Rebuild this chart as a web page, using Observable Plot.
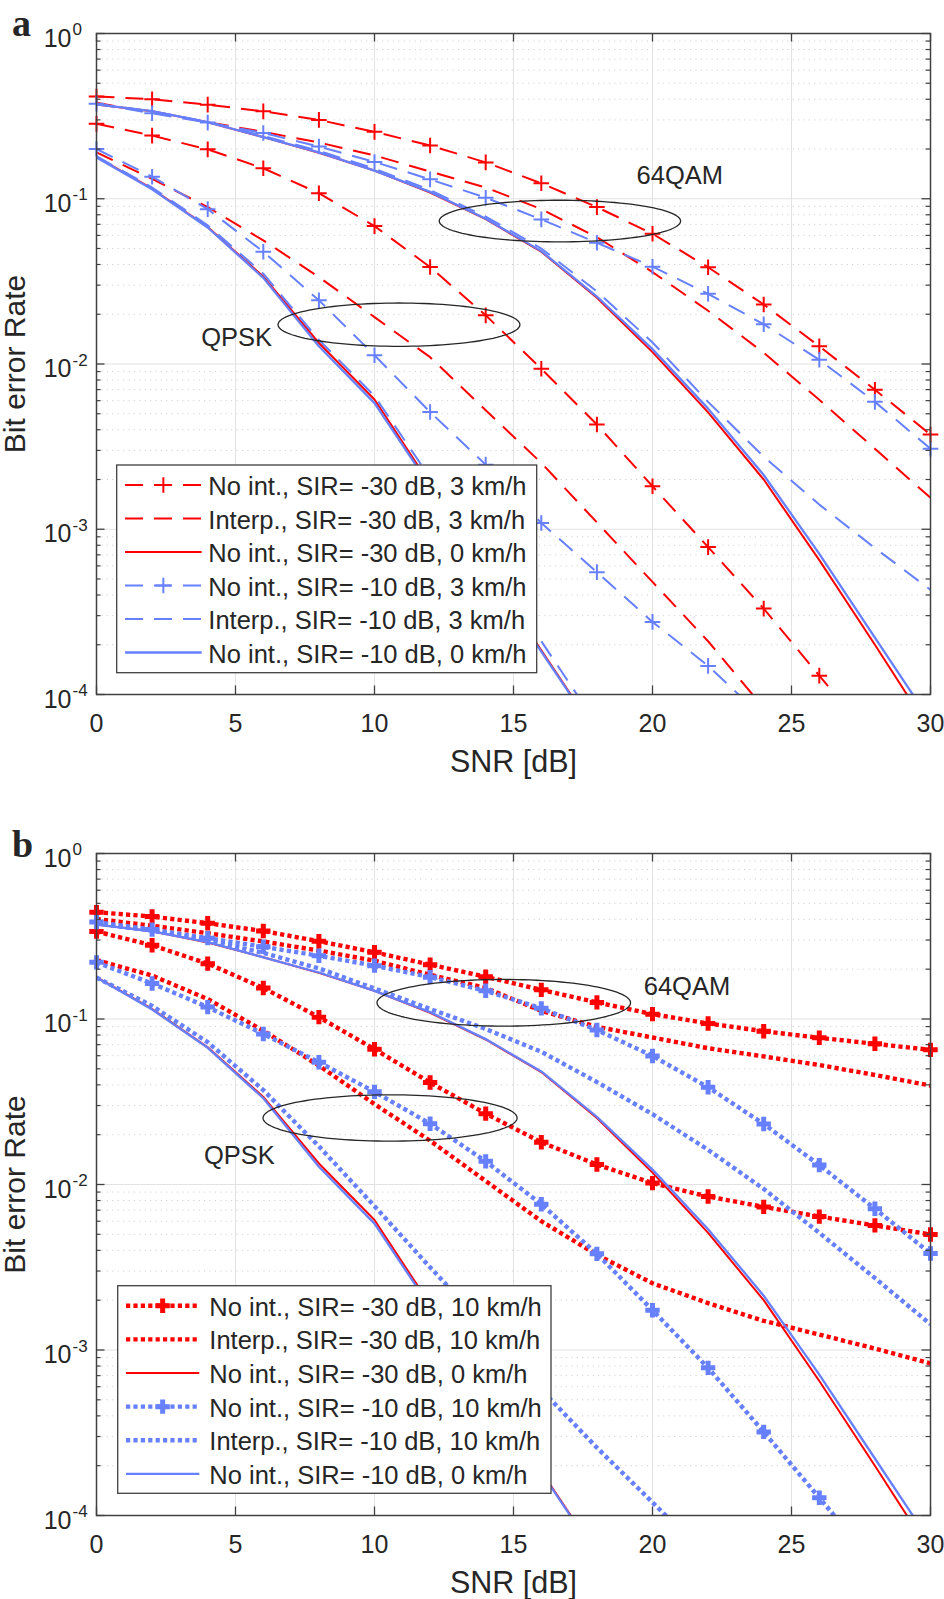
<!DOCTYPE html>
<html><head><meta charset="utf-8">
<script src="https://cdn.jsdelivr.net/npm/d3@7"></script>
<script src="https://cdn.jsdelivr.net/npm/@observablehq/plot@0.6"></script>
<style>
body{margin:0;background:#fff;}
#chart{width:944px;}
#chart svg{display:block;}
</style></head><body><div id="chart"></div>
<script>
// ---------- data ----------
const snr = [0,2,4,6,8,10,12,14,16,18,20,22,24,26,28,30];
const yTicksMajor = [1e-4,1e-3,1e-2,1e-1,1];
const xTicks = [0,5,10,15,20,25,30];

// shared: perfect-channel (0 km/h) curves
const solidM30_QPSK = [0.179,0.115,0.0674,0.0338,0.0134,0.0061,0.00188,0.00059,0.000185,0.000058,null,null,null,null,null,null];
const solidM10_QPSK = [0.178,0.114,0.0670,0.0332,0.0128,0.0058,0.00182,0.000575,0.000182,0.0000575,null,null,null,null,null,null];
const solidM30_64 = [0.372,0.339,0.290,0.236,0.190,0.148,0.109,0.0752,0.0478,0.0252,0.0118,0.0051,0.0020,0.00065,0.000200,0.000060];
const solidM10_64 = [0.372,0.339,0.291,0.236,0.191,0.148,0.110,0.0756,0.0482,0.0256,0.0123,0.00537,0.00213,0.00071,0.000221,0.000069];

// panel a: 3 km/h
const aNoIntM30_QPSK = [0.284,0.241,0.199,0.153,0.108,0.0683,0.0386,0.0197,0.00936,0.0043,0.00182,0.00078,0.000331,0.000130,0.000052,null];
const aNoIntM30_64 = [0.416,0.400,0.371,0.338,0.300,0.254,0.210,0.166,0.124,0.089,0.0614,0.0385,0.0229,0.0128,0.00699,0.00374];
const aInterpM30_QPSK = [0.191,0.132,0.089,0.056,0.0336,0.0192,0.0110,0.00525,0.00252,0.00110,0.00048,0.00021,0.000083,null,null,null];
const aInterpM30_64 = [0.381,0.332,0.291,0.254,0.219,0.183,0.146,0.117,0.0865,0.0585,0.0360,0.0210,0.0117,0.00607,0.00307,0.00155];
const aNoIntM10_QPSK = [0.200,0.136,0.0865,0.0478,0.0243,0.0113,0.00512,0.00246,0.00109,0.00055,0.000275,0.000149,0.000072,null,null,null];
const aNoIntM10_64 = [0.376,0.329,0.289,0.250,0.207,0.167,0.131,0.1015,0.075,0.0542,0.0388,0.0266,0.0174,0.0106,0.0059,0.00307];
const aInterpM10_QPSK = [0.181,0.117,0.069,0.0352,0.0140,0.0064,0.00205,0.00066,0.00021,0.000066,null,null,null,null,null,null];
const aInterpM10_64 = [0.374,0.338,0.292,0.240,0.195,0.152,0.113,0.078,0.050,0.0275,0.0135,0.0059,0.00275,0.00141,0.00077,0.00043];

// panel b: 10 km/h
const bNoIntM30_QPSK = [0.338,0.279,0.216,0.154,0.1026,0.0657,0.0413,0.0268,0.0180,0.0132,0.0102,0.00846,0.00732,0.00640,0.00566,0.00499];
const bNoIntM30_64 = [0.442,0.416,0.379,0.340,0.295,0.253,0.213,0.180,0.150,0.126,0.107,0.094,0.0844,0.0770,0.0708,0.0651];
const bInterpM30_QPSK = [0.227,0.183,0.132,0.085,0.0523,0.0306,0.0184,0.0105,0.0060,0.00376,0.00253,0.00192,0.00150,0.00124,0.00102,0.00083];
const bInterpM30_64 = [0.402,0.366,0.330,0.294,0.259,0.225,0.185,0.154,0.112,0.0897,0.0773,0.0666,0.0594,0.0527,0.0459,0.0396];
const bNoIntM10_QPSK = [0.220,0.164,0.118,0.0812,0.0548,0.0363,0.0233,0.0138,0.0076,0.00381,0.00174,0.00078,0.00032,0.000128,0.000051,null];
const bNoIntM10_64 = [0.385,0.347,0.308,0.273,0.241,0.210,0.179,0.148,0.116,0.0858,0.0598,0.0387,0.0232,0.0131,0.00714,0.00383];
const bInterpM10_QPSK = [0.178,0.120,0.0724,0.0372,0.0170,0.0074,0.00316,0.00138,0.000575,0.000257,0.000120,0.000056,null,null,null,null];
const bInterpM10_64 = [0.378,0.342,0.299,0.251,0.202,0.153,0.115,0.087,0.0634,0.0416,0.0266,0.0162,0.0094,0.0051,0.00272,0.00143];

const labelsA = ["No int., SIR= -30 dB, 3 km/h","Interp., SIR= -30 dB, 3 km/h","No int., SIR= -30 dB, 0 km/h","No int., SIR= -10 dB, 3 km/h","Interp., SIR= -10 dB, 3 km/h","No int., SIR= -10 dB, 0 km/h"];
const labelsB = ["No int., SIR= -30 dB, 10 km/h","Interp., SIR= -30 dB, 10 km/h","No int., SIR= -30 dB, 0 km/h","No int., SIR= -10 dB, 10 km/h","Interp., SIR= -10 dB, 10 km/h","No int., SIR= -10 dB, 0 km/h"];

// annotation ellipses (centre SNR, centre log10 BER, half-width dB, half-height decades)
const ellipsesA = [{cx:16.67,cy:-1.135,rx:4.34,ry:0.126},{cx:10.88,cy:-1.762,rx:4.35,ry:0.131}];
const ellipsesB = [{cx:14.65,cy:-0.902,rx:4.56,ry:0.141},{cx:10.56,cy:-1.598,rx:4.57,ry:0.140}];
const notesA = [{t:"64QAM",x:20.98,y:0.1384},{t:"QPSK",x:5.04,y:0.0144}];
const notesB = [{t:"64QAM",x:21.24,y:0.1556},{t:"QPSK",x:5.14,y:0.0150}];

// ---------- styling ----------
const RED = "#ff0000", BLUE = "#6680ff", INK = "#262626", AXIS = "#404040";
const FONT = "'Liberation Sans', Arial, Helvetica, sans-serif";
const W = 944, ML = 96, MR = 14;
const minorTicks = [];
for (let e = -4; e < 0; e++) for (let m = 2; m <= 9; m++) minorTicks.push(m * Math.pow(10, e));

const plusSym = {draw(ctx, size){const r = Math.sqrt(size/Math.PI); ctx.moveTo(-r,0); ctx.lineTo(r,0); ctx.moveTo(0,-r); ctx.lineTo(0,r);}};
const markerR = {a: 7.8, b: 7.2}, markerW = {a: 2, b: 5};

const rows = vals => snr.map((x,i)=>({x, y: vals[i]})).filter(d => d.y != null);

function styleOf(kind, color, panel) {
  if (kind === "solid") return {strokeWidth: color === BLUE ? 2.3 : 2, dash: null};
  if (panel === "a") return {strokeWidth: 2, dash: "18,11"};
  return {strokeWidth: 4.4, dash: "4.2,3.2"};
}

function makePanel(cfg) {
  const H = cfg.height - cfg.marginTop - cfg.marginBottom;
  const PW = W - ML - MR;
  const marks = [];
  // grid
  marks.push(Plot.ruleY(minorTicks, {y: d=>d, stroke: "#d2d2d2", strokeWidth: 1, strokeDasharray: "1.2,4.2"}));
  marks.push(Plot.ruleY(yTicksMajor.slice(1,4), {y: d=>d, stroke: "#e2e2e2", strokeWidth: 1}));
  marks.push(Plot.ruleX(xTicks.slice(1,6), {x: d=>d, stroke: "#e2e2e2", strokeWidth: 1}));
  // lines
  cfg.series.forEach(s => {
    const st = styleOf(s.kind, s.color, cfg.letter);
    s.data.forEach(vals => {
      marks.push(Plot.line(rows(vals), {x: "x", y: "y", stroke: s.color, strokeWidth: st.strokeWidth,
        strokeDasharray: st.dash, clip: true, strokeLinejoin: "round", strokeLinecap: "butt"}));
      if (s.marker) {
        marks.push(Plot.dot(rows(vals).filter(d => d.y >= 1e-4), {x: "x", y: "y", symbol: plusSym,
          r: markerR[cfg.letter], stroke: s.color, fill: "none",
          strokeWidth: markerW[cfg.letter], strokeLinecap: "butt"}));
      }
    });
  });
  // ellipses
  cfg.ellipses.forEach(e => {
    const pts = d3.range(0, 361, 3).map(a => ({x: e.cx + e.rx*Math.cos(a*Math.PI/180), y: Math.pow(10, e.cy + e.ry*Math.sin(a*Math.PI/180))}));
    marks.push(Plot.line(pts, {x: "x", y: "y", stroke: INK, strokeWidth: 1.3}));
  });
  marks.push(Plot.text(cfg.notes, {x: "x", y: "y", text: "t", fontSize: 25.5, fill: INK, fontFamily: FONT}));
  // frame & inward ticks
  marks.push(Plot.frame({stroke: AXIS, strokeWidth: 1.5}));
  marks.push(Plot.tickY(yTicksMajor, {y: d=>d, insetRight: PW - 8.5, stroke: AXIS, strokeWidth: 1.3}));
  marks.push(Plot.tickY(yTicksMajor, {y: d=>d, insetLeft: PW - 8.5, stroke: AXIS, strokeWidth: 1.3}));
  marks.push(Plot.tickY(minorTicks, {y: d=>d, insetRight: PW - 4.5, stroke: AXIS, strokeWidth: 1.2}));
  marks.push(Plot.tickY(minorTicks, {y: d=>d, insetLeft: PW - 4.5, stroke: AXIS, strokeWidth: 1.2}));
  marks.push(Plot.tickX(xTicks, {x: d=>d, insetBottom: H - 8.5, stroke: AXIS, strokeWidth: 1.3}));
  marks.push(Plot.tickX(xTicks, {x: d=>d, insetTop: H - 8.5, stroke: AXIS, strokeWidth: 1.3}));
  // tick labels
  marks.push(Plot.text(yTicksMajor, {y: d=>d, text: () => "10", frameAnchor: "left", dx: -25, textAnchor: "end", lineAnchor: "bottom", dy: 13, fontSize: 25, fill: INK, fontFamily: FONT}));
  marks.push(Plot.text(yTicksMajor, {y: d=>d, text: d => String(Math.round(Math.log10(d))), frameAnchor: "left", dx: -24, textAnchor: "start", lineAnchor: "bottom", dy: 1.5, fontSize: 17, fill: INK, fontFamily: FONT}));
  marks.push(Plot.text(xTicks, {x: d=>d, text: d => String(d), frameAnchor: "bottom", dy: 37, lineAnchor: "bottom", fontSize: 25, fill: INK, fontFamily: FONT}));
  // axis titles
  marks.push(Plot.text(["SNR [dB]"], {text: d=>d, frameAnchor: "bottom", dy: 77, textAnchor: "middle", lineAnchor: "bottom", fontSize: 30.5, fill: INK, fontFamily: FONT}));
  marks.push(Plot.text(["Bit error Rate"], {text: d=>d, frameAnchor: "left", dx: -71.5, rotate: -90, textAnchor: "middle", lineAnchor: "bottom", fontSize: 30, fill: INK, fontFamily: FONT}));

  const svg = Plot.plot({
    width: W, height: cfg.height,
    marginLeft: ML, marginRight: MR, marginTop: cfg.marginTop, marginBottom: cfg.marginBottom,
    x: {domain: [0, 30], axis: null},
    y: {type: "log", domain: [1e-4, 1], axis: null},
    style: {fontFamily: FONT, background: "white", overflow: "visible"},
    marks
  });

  // legend (drawn on top, white box)
  const L = cfg.legend;
  const g = d3.select(svg).append("g").attr("font-family", FONT).attr("font-size", 25.5).attr("text-anchor", "start");
  g.append("rect").attr("x", L.x0).attr("y", L.y0).attr("width", L.x1 - L.x0).attr("height", L.y1 - L.y0)
    .attr("fill", "white").attr("stroke", AXIS).attr("stroke-width", 1.3);
  cfg.series.forEach((s, i) => {
    const y = L.row0 + i * L.step;
    const st = styleOf(s.kind, s.color, cfg.letter);
    g.append("line").attr("x1", L.lx0).attr("x2", L.lx1).attr("y1", y).attr("y2", y)
      .attr("stroke", s.color).attr("stroke-width", st.strokeWidth).attr("stroke-dasharray", st.dash)
      .attr("stroke-linecap", "butt");
    if (s.marker) {
      const r = markerR[cfg.letter], mx = (L.lx0 + L.lx1) / 2;
      g.append("path").attr("d", `M${mx-r},${y}H${mx+r}M${mx},${y-r}V${y+r}`)
        .attr("stroke", s.color).attr("stroke-width", markerW[cfg.letter]).attr("fill", "none");
    }
    g.append("text").attr("x", L.tx).attr("y", y + 10).attr("fill", INK).attr("text-anchor", "start").text(s.label);
  });
  // panel letter
  d3.select(svg).append("text").attr("x", cfg.letterX).attr("y", cfg.letterY).attr("text-anchor", "start")
    .attr("font-family", "'Liberation Serif', 'Times New Roman', serif").attr("font-weight", "bold")
    .attr("font-size", 38).attr("fill", INK).text(cfg.letter);
  return svg;
}

const panelA = {
  letter: "a", height: 800, marginTop: 33, marginBottom: 106, letterX: 12, letterY: 36,
  series: [
    {label: labelsA[0], color: RED, kind: "dash", marker: true, data: [aNoIntM30_QPSK, aNoIntM30_64]},
    {label: labelsA[1], color: RED, kind: "dash", marker: false, data: [aInterpM30_QPSK, aInterpM30_64]},
    {label: labelsA[2], color: RED, kind: "solid", marker: false, data: [solidM30_QPSK, solidM30_64]},
    {label: labelsA[3], color: BLUE, kind: "dash", marker: true, data: [aNoIntM10_QPSK, aNoIntM10_64]},
    {label: labelsA[4], color: BLUE, kind: "dash", marker: false, data: [aInterpM10_QPSK, aInterpM10_64]},
    {label: labelsA[5], color: BLUE, kind: "solid", marker: false, data: [solidM10_QPSK, solidM10_64]}
  ],
  ellipses: ellipsesA, notes: notesA,
  legend: {x0: 116.7, x1: 536.7, y0: 465, y1: 672.7, row0: 485, step: 33.5, lx0: 125, lx1: 201.7, tx: 208.3}
};
const panelB = {
  letter: "b", height: 799, marginTop: 53, marginBottom: 84, letterX: 12, letterY: 57,
  series: [
    {label: labelsB[0], color: RED, kind: "dot", marker: true, data: [bNoIntM30_QPSK, bNoIntM30_64]},
    {label: labelsB[1], color: RED, kind: "dot", marker: false, data: [bInterpM30_QPSK, bInterpM30_64]},
    {label: labelsB[2], color: RED, kind: "solid", marker: false, data: [solidM30_QPSK, solidM30_64]},
    {label: labelsB[3], color: BLUE, kind: "dot", marker: true, data: [bNoIntM10_QPSK, bNoIntM10_64]},
    {label: labelsB[4], color: BLUE, kind: "dot", marker: false, data: [bInterpM10_QPSK, bInterpM10_64]},
    {label: labelsB[5], color: BLUE, kind: "solid", marker: false, data: [solidM10_QPSK, solidM10_64]}
  ],
  ellipses: ellipsesB, notes: notesB,
  legend: {x0: 117.7, x1: 551, y0: 485.7, y1: 693.3, row0: 505.7, step: 33.65, lx0: 126, lx1: 199.3, tx: 209.3}
};

const root = document.getElementById("chart");
root.appendChild(makePanel(panelA));
root.appendChild(makePanel(panelB));
</script>
</body></html>
